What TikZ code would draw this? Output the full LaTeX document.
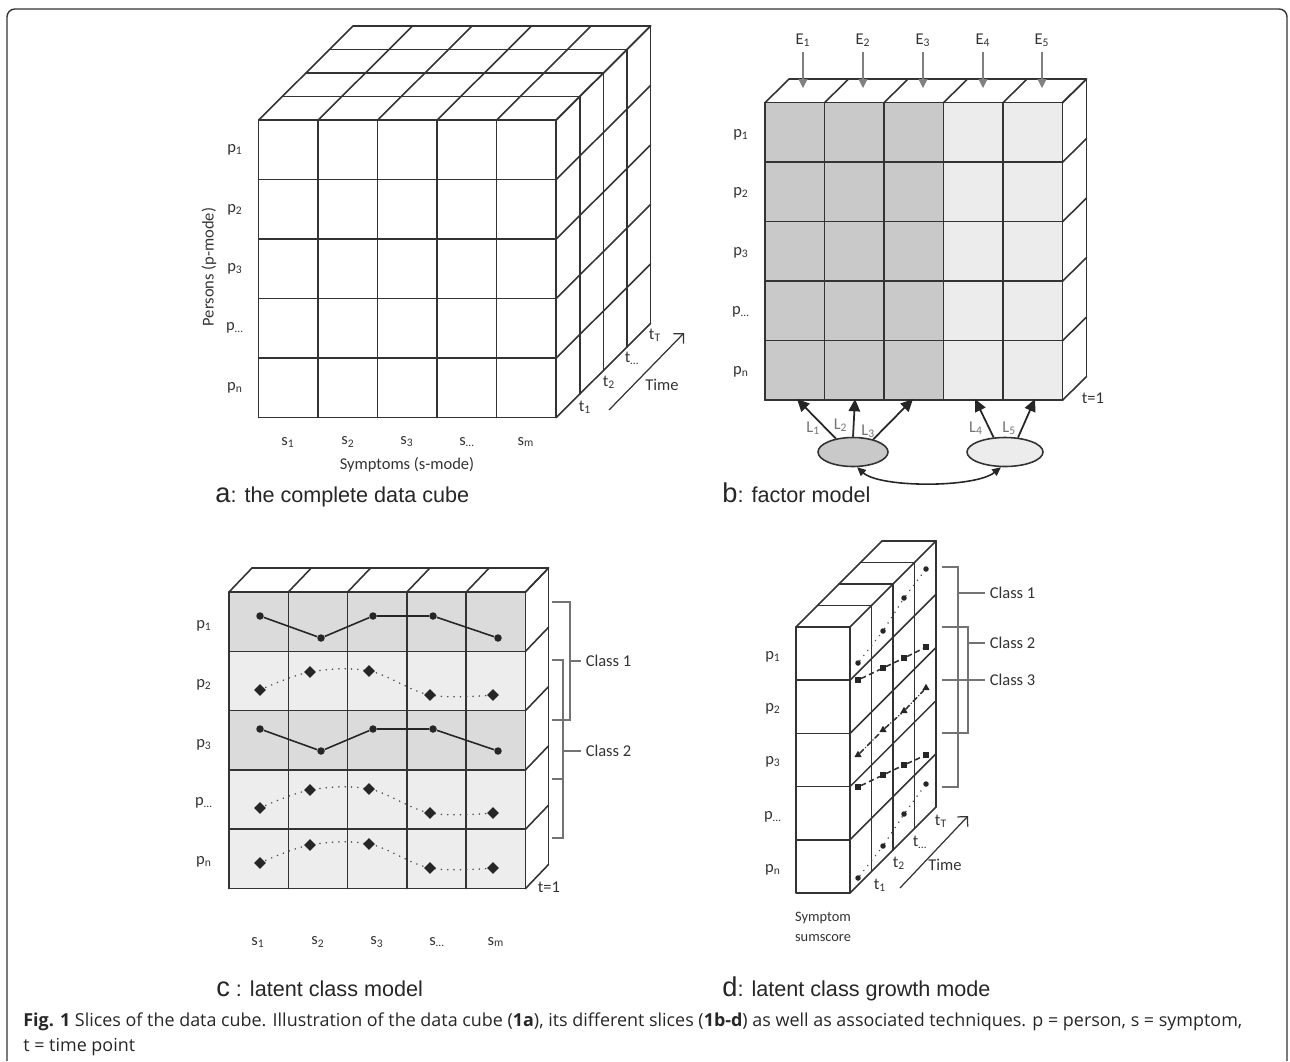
\documentclass[tikz,border=0pt]{standalone}
\usepackage{fontspec}
\setmainfont{Carlito}
\newfontfamily\capfont{Liberation Sans}
\newfontfamily\figfont{Open Sans}
\usetikzlibrary{shapes.geometric,arrows.meta}
\definecolor{darkcell}{gray}{0.79}
\definecolor{lightcell}{gray}{0.925}
\definecolor{rowdark}{gray}{0.86}
\definecolor{rowlight}{gray}{0.93}

\begin{document}
\begin{tikzpicture}[x=0.02cm, y=-0.02cm,
  cube/.style={line width=0.9pt, draw=black!80, line join=round, line cap=round},
  lab/.style={font=\fontsize{9.4}{11}\selectfont, inner sep=0pt, text=black!80},
  llab/.style={lab, text=black!55},
  brk/.style={line width=0.9pt, draw=black!55},
  timearrow/.style={-{Straight Barb[length=4pt,width=8pt]}, line width=0.7pt, draw=black!80},
  earrow/.style={-{Triangle[length=5pt,width=5pt]}, line width=0.6pt, draw=black!50, fill=black!50},
  larrow/.style={-{Triangle[length=7pt,width=6.5pt]}, line width=1pt, draw=black!85, fill=black!85},
  dotm/.style={circle, fill=black!85, inner sep=0pt, minimum size=0.15cm},
  diam/.style={diamond, fill=black!85, inner sep=0pt, minimum size=0.24cm},
  dsmall/.style={circle, fill=black!85, inner sep=0pt, minimum size=0.11cm},
  dsquare/.style={rectangle, fill=black!85, inner sep=0pt, minimum size=0.11cm},
  dtri/.style={regular polygon, regular polygon sides=3, fill=black!85, inner sep=0pt, minimum size=0.17cm},
  solidln/.style={line width=0.9pt, draw=black!85},
  dotln/.style={line width=0.9pt, draw=black!70, dash pattern=on 0.1pt off 3.5pt, line cap=round},
  dashln/.style={line width=0.9pt, draw=black!80, dash pattern=on 3pt off 2pt},
  dashdotln/.style={line width=0.9pt, draw=black!80, dash pattern=on 3pt off 1.5pt on 0.1pt off 1.5pt, line cap=round},
  paneltitle/.style={anchor=base west, inner sep=0pt, font=\capfont\fontsize{12.3}{14}\selectfont, text=black!85},
]
\useasboundingbox (0,0) rectangle (1290,1061);

% frame
\draw[line width=0.8pt, black!80, rounded corners=4.5pt] (7,1061) -- (7,9) -- (1287,9) -- (1287,1061);

% === a: the complete data cube ===
\begin{scope}[shift={(258.7,120)}]
  \foreach \i in {0,...,5} {
    \draw[cube] (\i*59.5,0) -- (\i*59.5,297.5);
    \draw[cube] (0,\i*59.5) -- (297.5,\i*59.5);
    \draw[cube] (\i*59.5,0) -- ++(94.4,-94);
    \draw[cube] (297.5,\i*59.5) -- ++(94.4,-94);
  }
  \foreach \k in {1,...,4} {
    \draw[cube] (\k*23.6,-\k*23.5) -- ++(297.5,0);
    \draw[cube] (297.5+\k*23.6,-\k*23.5) -- ++(0,297.5);
  }
\end{scope}
\foreach \n/\t/\y in {1/1/150, 2/2/210, 3/3/269, 4/…/328, 5/n/388}
  \node[lab] (ap\n) at (235,\y) {p\textsubscript{\t}};
\foreach \n/\t/\x in {1/1/288, 2/2/348, 3/3/407, 4/…/467, 5/m/526}
  \node[lab] (as\n) at (\x,442) {s\textsubscript{\t}};
\node[lab, rotate=90] (pmode) at (209,267) {Persons (p-mode)};
\node[lab] (smode) at (407,465) {Symptoms (s-mode)};
\node[lab] (at1) at (585,407) {t\textsubscript{1}};
\node[lab] (at2) at (609,382) {t\textsubscript{2}};
\node[lab] (at3) at (632,358) {t\textsubscript{…}};
\node[lab] (at4) at (655,335) {t\textsubscript{T}};
\node[lab] (atime) at (662,385) {Time};
\coordinate (ata) at (609,410);
\coordinate (atb) at (684,333);
\draw[timearrow] (ata) -- (atb);
\node[paneltitle] (capa) at (215,502) {{\fontsize{15.5}{16}\selectfont a}: the complete data cube};

% === b: factor model ===
\begin{scope}[shift={(765,102.7)}]
  \fill[darkcell] (0,0) rectangle (178.5,297.5);
  \fill[lightcell] (178.5,0) rectangle (297.5,297.5);
  \foreach \i in {0,...,5} {
    \draw[cube] (\i*59.5,0) -- (\i*59.5,297.5);
    \draw[cube] (0,\i*59.5) -- (297.5,\i*59.5);
    \draw[cube] (\i*59.5,0) -- ++(24,-23.6);
    \draw[cube] (297.5,\i*59.5) -- ++(24,-23.6);
  }
  \draw[cube] (24,-23.6) -- ++(297.5,0) -- ++(0,297.5);
\end{scope}
\foreach \n/\t/\y in {1/1/135, 2/2/193, 3/3/253, 4/…/312, 5/n/372}
  \node[lab] (bp\n) at (741,\y) {p\textsubscript{\t}};
\foreach \n/\x in {1/803, 2/863, 3/923, 4/983, 5/1042} {
  \node[lab] (be\n) at (\x,40) {E\textsubscript{\n}};
  \coordinate (bet\n) at (\x,88);
  \draw[earrow, shorten <=3pt] (be\n) -- (bet\n);
}
\node[lab] (bt1) at (1093,398) {t=1};
\node[ellipse, draw=black!80, line width=0.9pt, fill=darkcell, minimum width=1.4cm, minimum height=0.58cm] (fac1) at (853,452) {};
\node[ellipse, draw=black!80, line width=0.9pt, fill=lightcell, minimum width=1.52cm, minimum height=0.58cm] (fac2) at (1005,452) {};
\coordinate (lt1) at (797,399);
\coordinate (lt2) at (855,399);
\coordinate (lt3) at (913,399);
\coordinate (lt4) at (975,399);
\coordinate (lt5) at (1035,399);
\draw[larrow] (fac1.142) -- node[llab, pos=0.25, left=3pt] {L\textsubscript{1}} (lt1);
\draw[larrow] (fac1.90) -- node[llab, pos=0.3, left=3pt] {L\textsubscript{2}} (lt2);
\draw[larrow] (fac1.32) -- node[llab, pos=0.2, left=3pt] {L\textsubscript{3}} (lt3);
\draw[larrow] (fac2.128) -- node[llab, pos=0.25, left=3pt] {L\textsubscript{4}} (lt4);
\draw[larrow] (fac2.48) -- node[llab, pos=0.25, left=3pt] {L\textsubscript{5}} (lt5);
\draw[{Triangle[length=5pt,width=4.5pt]}-{Triangle[length=5pt,width=4.5pt]}, line width=0.9pt, black!85]
  (fac1.-75) .. controls (880,488) and (975,488) .. (fac2.-105);
\node[paneltitle] (capb) at (722,502) {{\fontsize{15.5}{16}\selectfont b}: factor model};

% === c: latent class model ===
\begin{scope}[shift={(229,592)}]
  \foreach \j/\c in {0/rowdark, 1/rowlight, 2/rowdark, 3/rowlight, 4/rowlight}
    \fill[\c] (0,\j*59.3) rectangle (296.5,\j*59.3+59.3);
  \foreach \i in {0,...,5} {
    \draw[cube] (\i*59.3,0) -- (\i*59.3,296.5);
    \draw[cube] (0,\i*59.3) -- (296.5,\i*59.3);
    \draw[cube] (\i*59.3,0) -- ++(23,-24);
    \draw[cube] (296.5,\i*59.3) -- ++(23,-24);
  }
  \draw[cube] (23,-24) -- ++(296.5,0) -- ++(0,296.5);
\end{scope}
\foreach \r/\o in {a/0, c/113} {
  \foreach \n/\x/\y in {1/260/616, 2/321/638, 3/373/616, 4/433/616, 5/498/638}
    \node[dotm] (c\r\n) at (\x,\y+\o) {};
  \draw[solidln] (c\r1) -- (c\r2) -- (c\r3) -- (c\r4) -- (c\r5);
}
\foreach \r/\o in {b/0, d/118, e/173} {
  \draw[dotln] plot[smooth, tension=0.6] coordinates {(260,690+\o) (310,672+\o) (369,671+\o) (430,695+\o) (493,695+\o)};
  \foreach \n/\x/\y in {1/260/690, 2/310/672, 3/369/671, 4/430/695, 5/493/695}
    \node[diam] (c\r\n) at (\x,\y+\o) {};
}
\foreach \n/\t/\y in {1/1/626, 2/2/685, 3/3/745, 4/…/803, 5/n/862}
  \node[lab] (cp\n) at (204,\y) {p\textsubscript{\t}};
\foreach \n/\t/\x in {1/1/258, 2/2/318, 3/3/377, 4/…/437, 5/m/496}
  \node[lab] (cs\n) at (\x,942) {s\textsubscript{\t}};
\node[lab] (ct1) at (549,887) {t=1};
\node[lab, anchor=west, inner xsep=2.5pt] (ccl1) at (581,661) {Class 1};
\node[lab, anchor=west, inner xsep=2.5pt] (ccl2) at (581,751) {Class 2};
\draw[brk] (552,602) -- (570,602) -- (570,720) -- (552,720);
\draw[brk] (570,661) -- (ccl1.west);
\draw[brk] (552,660) -- (563,660) -- (563,838) -- (552,838);
\draw[brk] (552,779) -- (563,779);
\draw[brk] (563,751) -- (ccl2.west);
\node[paneltitle] (capc) at (216,996) {{\fontsize{15.5}{16}\selectfont c} : latent class model};

% === d: latent class growth model ===
\begin{scope}[shift={(796,627)}]
  \draw[cube] (0,0) rectangle (54,266);
  \foreach \j in {1,...,4} \draw[cube] (0,\j*53.2) -- (54,\j*53.2);
  \foreach \j in {0,...,5} \draw[cube] (54,\j*53.2) -- ++(86,-86);
  \draw[cube] (0,0) -- ++(86,-86);
  \foreach \k in {1,...,4} {
    \draw[cube] (\k*21.5,-\k*21.5) -- ++(54,0);
    \draw[cube] (54+\k*21.5,-\k*21.5) -- ++(0,266);
  }
\end{scope}
\foreach \n/\x/\y in {1/858/663, 2/883/631, 3/904/598, 4/926/569}
  \node[dsmall] (da\n) at (\x,\y) {};
\foreach \n/\x/\y in {1/858/680, 2/883/668, 3/904/658, 4/926/647}
  \node[dsquare] (db\n) at (\x,\y) {};
\foreach \n/\x/\y in {1/858/755, 2/883/730, 3/904/711, 4/926/688}
  \node[dtri] (dc\n) at (\x,\y) {};
\foreach \n/\x/\y in {1/858/787, 2/883/775, 3/904/765, 4/926/755}
  \node[dsquare] (dd\n) at (\x,\y) {};
\foreach \n/\x/\y in {1/858/878, 2/883/846, 3/904/814, 4/926/784}
  \node[dsmall] (de\n) at (\x,\y) {};
\draw[dotln] (da1) -- (da2) -- (da3) -- (da4);
\draw[dashln] (db1) -- (db2) -- (db3) -- (db4);
\draw[dashdotln] (dc1) -- (dc2) -- (dc3) -- (dc4);
\draw[dashln] (dd1) -- (dd2) -- (dd3) -- (dd4);
\draw[dotln] (de1) -- (de2) -- (de3) -- (de4);
\foreach \n/\t/\y in {1/1/657, 2/2/709, 3/3/762, 4/…/817, 5/n/870}
  \node[lab] (dp\n) at (773,\y) {p\textsubscript{\t}};
\node[lab] (dt1) at (880,885) {t\textsubscript{1}};
\node[lab] (dt2) at (899,863) {t\textsubscript{2}};
\node[lab] (dt3) at (920,842) {t\textsubscript{…}};
\node[lab] (dt4) at (941,821) {t\textsubscript{T}};
\node[lab] (dtime) at (945,865) {Time};
\coordinate (dta) at (900,888);
\coordinate (dtb) at (968,816);
\draw[timearrow] (dta) -- (dtb);
\node[lab, font=\fontsize{8.2}{10}\selectfont, align=center] (dsum) at (823,927) {Symptom\\[1pt]sumscore};
\node[lab, anchor=west, inner xsep=2.5pt] (dcl1) at (985,593) {Class 1};
\node[lab, anchor=west, inner xsep=2.5pt] (dcl2) at (985,643) {Class 2};
\node[lab, anchor=west, inner xsep=2.5pt] (dcl3) at (985,680) {Class 3};
\draw[brk] (942,567) -- (958,567) -- (958,787) -- (942,787);
\draw[brk] (958,593) -- (dcl1.west);
\draw[brk] (942,627) -- (968,627) -- (968,733) -- (942,733);
\draw[brk] (968,643) -- (dcl2.west);
\draw[brk] (942,680) -- (dcl3.west);
\node[paneltitle] (capd) at (722,996) {{\fontsize{15.5}{16}\selectfont d}: latent class growth mode};

% === figure caption ===
\node[anchor=base west, inner sep=0pt, font=\figfont\fontsize{10.2}{12}\selectfont, text=black!85] (fig1) at (23,1026.7)
  {\textbf{Fig. 1} Slices of the data cube. Illustration of the data cube (\textbf{1a}), its different slices (\textbf{1b-d}) as well as associated techniques. p = person, s = symptom,};
\node[anchor=base west, inner sep=0pt, font=\figfont\fontsize{10.2}{12}\selectfont, text=black!85] (fig2) at (23,1051.7)
  {t = time point};
\end{tikzpicture}
\end{document}
